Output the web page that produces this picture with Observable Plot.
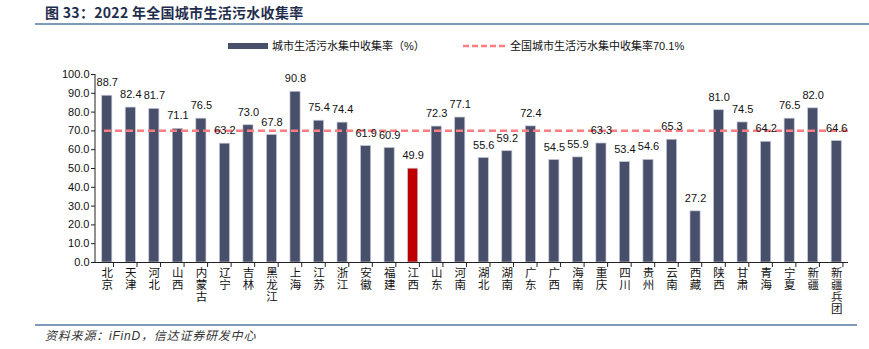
<!DOCTYPE html>
<html>
<head>
<meta charset="utf-8">
<script src="https://cdn.jsdelivr.net/npm/d3@7"></script>
<script src="https://cdn.jsdelivr.net/npm/@observablehq/plot@0.6"></script>
<style>
  body { margin: 0; background: #fff; width: 869px; height: 349px; position: relative; overflow: hidden;
         font-family: "Liberation Sans", "Noto Sans CJK SC", sans-serif; }
  .abs { position: absolute; }
  #title { left: 45px; top: 2px; font-size: 14px; font-weight: bold; color: #1f2d4d; letter-spacing: 0.3px;
           font-family: "Noto Sans CJK SC", sans-serif; white-space: pre; }
  .rule { background: #7f99b8; height: 2px; }
  .leg { font-size: 11px; color: #111; top: 37px; }
  #footer { left: 45px; top: 326px; font-size: 12px; font-style: italic; color: #333; letter-spacing: 0.8px; white-space: pre; }
  #chart { left: 0; top: 58px; }
</style>
</head>
<body>
<div id="title" class="abs">图 33：2022 年全国城市生活污水收集率</div>
<div class="abs rule" style="left:35px; top:23px; width:834px;"></div>
<div class="abs" style="left:228px; top:43px; width:40px; height:6px; background:#474f6b;"></div>
<div class="abs leg" style="left:272px;">城市生活污水集中收集率（%）</div>
<svg class="abs" style="left:463px; top:44px;" width="44" height="4"><line x1="0" y1="2" x2="44" y2="2" stroke="#ff7c80" stroke-width="2.5" stroke-dasharray="6,3"/></svg>
<div class="abs leg" style="left:510px;">全国城市生活污水集中收集率70.1%</div>
<div id="chart" class="abs"></div>
<div class="abs rule" style="left:35px; top:324px; width:822px;"></div>
<div id="footer" class="abs">资料来源：iFinD，信达证券研发中心</div>
<script>
const provinces = ["北京","天津","河北","山西","内蒙古","辽宁","吉林","黑龙江","上海","江苏","浙江","安徽","福建","江西","山东","河南","湖北","湖南","广东","广西","海南","重庆","四川","贵州","云南","西藏","陕西","甘肃","青海","宁夏","新疆","新疆兵团"];
const rates = [88.7,82.4,81.7,71.1,76.5,63.2,73.0,67.8,90.8,75.4,74.4,61.9,60.9,49.9,72.3,77.1,55.6,59.2,72.4,54.5,55.9,63.3,53.4,54.6,65.3,27.2,81.0,74.5,64.2,76.5,82.0,64.6];
const highlight = ["江西"];
const national = 70.1;
const yTicks = [0,10,20,30,40,50,60,70,80,90,100];

const data = provinces.map((p, i) => ({province: p, rate: rates[i], hi: highlight.includes(p)}));

const chart = Plot.plot({
  width: 869,
  height: 264,
  marginTop: 16,
  marginBottom: 60,
  marginLeft: 95,
  marginRight: 21,
  style: {fontFamily: '"Liberation Sans", "Noto Sans CJK SC", sans-serif', fontSize: "11px", color: "#111"},
  x: {domain: provinces, paddingInner: 0.57, paddingOuter: 0.285, round: false, label: null},
  y: {domain: [0, 100], label: null},
  marks: [
    Plot.barY(data, {x: "province", y: "rate", fill: d => d.hi ? "#c00000" : "#474f6b", stroke: "#c3c6d4", strokeWidth: 0.7}),
    Plot.ruleY([national], {stroke: "#ff7c80", strokeWidth: 2.5, strokeDasharray: "7,4", insetLeft: 9}),
    Plot.ruleY([0], {stroke: "#222", strokeWidth: 1}),
    Plot.text(data, {x: "province", y: "rate", text: d => d.rate.toFixed(1), dy: -13, fill: "#111", fontSize: 11}),
    Plot.axisY({ticks: yTicks, tickFormat: d => d.toFixed(1), tickSize: 4, tickPadding: 2, stroke: "#222", fontSize: 11}),
    Plot.axisX({tickSize: 5, tickPadding: 1, tickFormat: d => d.split("").join("\n"), lineHeight: 1.05, lineAnchor: "top", fontSize: 11.5, stroke: "#222"})
  ]
});

document.getElementById("chart").appendChild(chart);

// shift x ticks to band boundaries and draw the y axis line using the library's scales
const xs = chart.scale("x");
const ys = chart.scale("y");
const svg = d3.select(chart);
svg.selectAll('g[aria-label="x-axis tick"]').attr("transform", `translate(${xs.step / 2},0)`);
svg.append("line")
  .attr("x1", xs.range[0]).attr("x2", xs.range[0])
  .attr("y1", ys.range[0]).attr("y2", ys.range[1])
  .attr("stroke", "#222").attr("stroke-width", 1);
</script>
</body>
</html>
